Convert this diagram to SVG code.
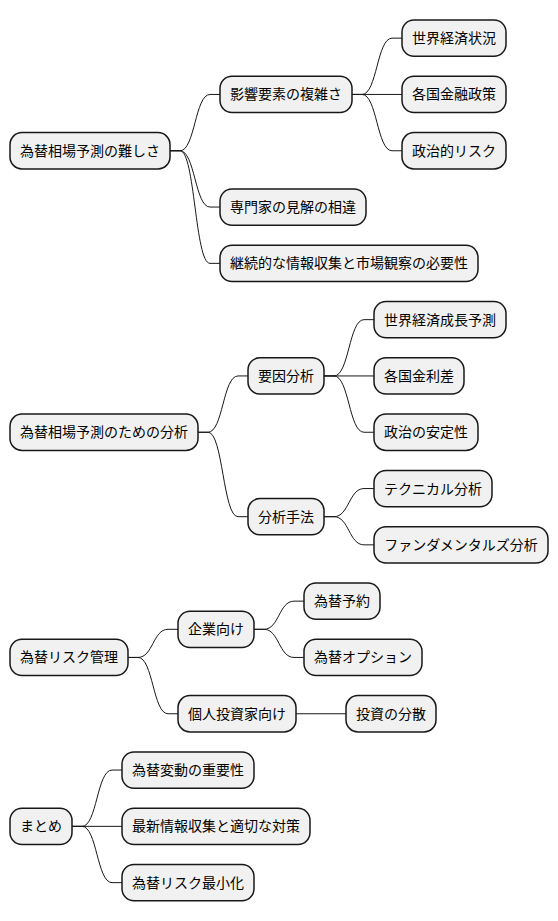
<svg xmlns="http://www.w3.org/2000/svg" width="558" height="921" viewBox="0 0 558 921">
<style>
.n rect{fill:#F1F1F1;stroke:#181818;stroke-width:1.5}
.n text{font-family:"Noto Sans CJK JP","Noto Sans",sans-serif;font-size:14px;fill:#000;text-anchor:middle}
.c path{fill:none;stroke:#181818;stroke-width:1}
</style>
<rect width="558" height="921" fill="#FFFFFF"/>
<g id="connectors" class="c">
<path d="M170,150.75 H180 C195,150.75 195,94.45 210,94.45 H220"/>
<path d="M170,150.75 H180 C195,150.75 195,207.05 210,207.05 H220"/>
<path d="M170,150.75 H180 C195,150.75 195,263.35 210,263.35 H220"/>
<path d="M352,94.45 H362 C377,94.45 377,38.15 392,38.15 H402"/>
<path d="M352,94.45 H402"/>
<path d="M352,94.45 H362 C377,94.45 377,150.75 392,150.75 H402"/>
<path d="M198,432.25 H208 C223,432.25 223,375.95 238,375.95 H248"/>
<path d="M198,432.25 H208 C223,432.25 223,516.7 238,516.7 H248"/>
<path d="M324,375.95 H334 C349,375.95 349,319.65 364,319.65 H374"/>
<path d="M324,375.95 H374"/>
<path d="M324,375.95 H334 C349,375.95 349,432.25 364,432.25 H374"/>
<path d="M324,516.7 H334 C349,516.7 349,488.55 364,488.55 H374"/>
<path d="M324,516.7 H334 C349,516.7 349,544.85 364,544.85 H374"/>
<path d="M128,657.45 H138 C153,657.45 153,629.3 168,629.3 H178"/>
<path d="M128,657.45 H138 C153,657.45 153,713.75 168,713.75 H178"/>
<path d="M254,629.3 H264 C279,629.3 279,601.15 294,601.15 H304"/>
<path d="M254,629.3 H264 C279,629.3 279,657.45 294,657.45 H304"/>
<path d="M296,713.75 H346"/>
<path d="M72,826.35 H82 C97,826.35 97,770.05 112,770.05 H122"/>
<path d="M72,826.35 H122"/>
<path d="M72,826.35 H82 C97,826.35 97,882.65 112,882.65 H122"/>
</g>
<g id="n1" class="n"><rect x="10" y="132.6" width="160" height="36.3" rx="12"/><text x="90" y="155.75">為替相場予測の難しさ</text></g>
<g id="n1a" class="n"><rect x="220" y="76.3" width="132" height="36.3" rx="12"/><text x="286" y="99.45">影響要素の複雑さ</text></g>
<g id="n1a1" class="n"><rect x="402" y="20" width="104" height="36.3" rx="12"/><text x="454" y="43.15">世界経済状況</text></g>
<g id="n1a2" class="n"><rect x="402" y="76.3" width="104" height="36.3" rx="12"/><text x="454" y="99.45">各国金融政策</text></g>
<g id="n1a3" class="n"><rect x="402" y="132.6" width="104" height="36.3" rx="12"/><text x="454" y="155.75">政治的リスク</text></g>
<g id="n1b" class="n"><rect x="220" y="188.9" width="146" height="36.3" rx="12"/><text x="293" y="212.05">専門家の見解の相違</text></g>
<g id="n1c" class="n"><rect x="220" y="245.2" width="258" height="36.3" rx="12"/><text x="349" y="268.35">継続的な情報収集と市場観察の必要性</text></g>
<g id="n2" class="n"><rect x="10" y="414.1" width="188" height="36.3" rx="12"/><text x="104" y="437.25">為替相場予測のための分析</text></g>
<g id="n2a" class="n"><rect x="248" y="357.8" width="76" height="36.3" rx="12"/><text x="286" y="380.95">要因分析</text></g>
<g id="n2a1" class="n"><rect x="374" y="301.5" width="132" height="36.3" rx="12"/><text x="440" y="324.65">世界経済成長予測</text></g>
<g id="n2a2" class="n"><rect x="374" y="357.8" width="90" height="36.3" rx="12"/><text x="419" y="380.95">各国金利差</text></g>
<g id="n2a3" class="n"><rect x="374" y="414.1" width="104" height="36.3" rx="12"/><text x="426" y="437.25">政治の安定性</text></g>
<g id="n2b" class="n"><rect x="248" y="498.55" width="76" height="36.3" rx="12"/><text x="286" y="521.7">分析手法</text></g>
<g id="n2b1" class="n"><rect x="374" y="470.4" width="118" height="36.3" rx="12"/><text x="433" y="493.55">テクニカル分析</text></g>
<g id="n2b2" class="n"><rect x="374" y="526.7" width="174" height="36.3" rx="12"/><text x="461" y="549.85">ファンダメンタルズ分析</text></g>
<g id="n3" class="n"><rect x="10" y="639.3" width="118" height="36.3" rx="12"/><text x="69" y="662.45">為替リスク管理</text></g>
<g id="n3a" class="n"><rect x="178" y="611.15" width="76" height="36.3" rx="12"/><text x="216" y="634.3">企業向け</text></g>
<g id="n3a1" class="n"><rect x="304" y="583" width="76" height="36.3" rx="12"/><text x="342" y="606.15">為替予約</text></g>
<g id="n3a2" class="n"><rect x="304" y="639.3" width="118" height="36.3" rx="12"/><text x="363" y="662.45">為替オプション</text></g>
<g id="n3b" class="n"><rect x="178" y="695.6" width="118" height="36.3" rx="12"/><text x="237" y="718.75">個人投資家向け</text></g>
<g id="n3b1" class="n"><rect x="346" y="695.6" width="90" height="36.3" rx="12"/><text x="391" y="718.75">投資の分散</text></g>
<g id="n4" class="n"><rect x="10" y="808.2" width="62" height="36.3" rx="12"/><text x="41" y="831.35">まとめ</text></g>
<g id="n4a" class="n"><rect x="122" y="751.9" width="132" height="36.3" rx="12"/><text x="188" y="775.05">為替変動の重要性</text></g>
<g id="n4b" class="n"><rect x="122" y="808.2" width="188" height="36.3" rx="12"/><text x="216" y="831.35">最新情報収集と適切な対策</text></g>
<g id="n4c" class="n"><rect x="122" y="864.5" width="132" height="36.3" rx="12"/><text x="188" y="887.65">為替リスク最小化</text></g>
</svg>
